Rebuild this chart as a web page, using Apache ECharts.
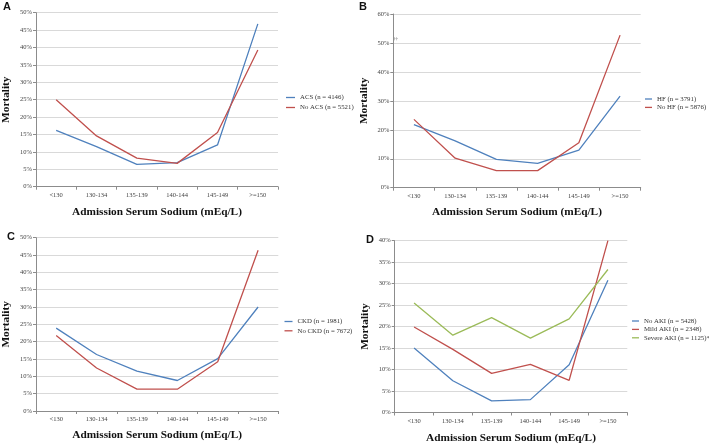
<!DOCTYPE html>
<html>
<head>
<meta charset="utf-8">
<script src="https://cdn.jsdelivr.net/npm/echarts@6/dist/echarts.min.js"></script>
<style>html,body{margin:0;padding:0;background:#fff}#c{width:709px;height:445px}</style>
</head>
<body>
<div id="c"></div>
<script>
const categories = ['<130', '130-134', '135-139', '140-144', '145-149', '>=150'];
const acs = [16.2, 11.5, 6.4, 6.9, 12.0, 46.8];
const noAcs = [25.0, 14.6, 8.2, 6.7, 15.6, 39.3];
const hf = [21.8, 16.2, 9.8, 8.4, 13.0, 31.6];
const noHf = [23.6, 10.2, 5.9, 5.9, 15.5, 52.7];
const ckd = [23.9, 16.3, 11.5, 8.8, 15.1, 30.0];
const noCkd = [21.8, 12.4, 6.3, 6.3, 14.2, 46.4];
const noAki = [15.0, 7.4, 2.7, 3.0, 11.1, 30.8];
const mildAki = [19.9, 14.7, 9.1, 11.2, 7.5, 40.0];
const severeAki = [25.5, 18.0, 22.1, 17.3, 21.8, 33.3];
const panelLetters = ['A', 'B', 'C', 'D'];
const yMax = [50, 60, 50, 40];
const yStep = [5, 10, 5, 5];
const xTitle = 'Admission Serum Sodium (mEq/L)';
const yTitle = 'Mortality';

const BLUE = '#4f81bd', RED = '#c0504d', GREEN = '#9bbb59';
const SERIF = '"Liberation Serif", "DejaVu Serif", serif';

const grids = [
  {left: 35, top: 12.7, width: 243, height: 174},
  {left: 393.3, top: 14, width: 247.4, height: 173.7},
  {left: 36, top: 237.7, width: 242.3, height: 173.3},
  {left: 394.7, top: 240.7, width: 232.6, height: 173.6}
];
const xNameGap = [20, 19, 18.5, 20.5];

const panels = [
  [{name: 'ACS (n = 4146)', data: acs, color: BLUE}, {name: 'No ACS (n = 5521)', data: noAcs, color: RED}],
  [{name: 'HF (n = 3791)', data: hf, color: BLUE}, {name: 'No HF (n = 5876)', data: noHf, color: RED}],
  [{name: 'CKD (n = 1981)', data: ckd, color: BLUE}, {name: 'No CKD (n = 7672)', data: noCkd, color: RED}],
  [{name: 'No AKI (n = 5428)', data: noAki, color: BLUE}, {name: 'Mild AKI (n = 2348)', data: mildAki, color: RED}, {name: 'Severe AKI (n = 1125)*', data: severeAki, color: GREEN}]
];

const legendPos = [
  {left: 286, top: 93.5, gap: 2, w: 9},
  {left: 645, top: 95, gap: 0.4, w: 7},
  {left: 284.5, top: 317.5, gap: 1.3, w: 8},
  {left: 632, top: 317, gap: 0.4, w: 7}
];
const letterPos = [
  {left: 3, top: 1}, {left: 359, top: 1}, {left: 7, top: 231}, {left: 366, top: 234}
];

const xAxes = [], yAxes = [], series = [], legends = [], titles = [];
grids.forEach((g, i) => {
  xAxes.push({
    type: 'category', gridIndex: i, data: categories, boundaryGap: true,
    name: xTitle, nameLocation: 'middle', nameGap: xNameGap[i],
    nameTextStyle: {fontFamily: SERIF, fontWeight: 'bold', fontSize: 11.3, color: '#111'},
    axisLine: {lineStyle: {color: '#8c8c8c', width: 1}},
    axisTick: {show: true, length: 3, lineStyle: {color: '#8c8c8c'}},
    axisLabel: {fontFamily: SERIF, fontSize: 6.5, color: '#444', margin: 5},
    splitLine: {show: false}
  });
  yAxes.push({
    type: 'value', gridIndex: i, min: 0, max: yMax[i], interval: yStep[i],
    name: yTitle, nameLocation: 'middle', nameGap: 24, nameRotate: 90,
    nameTextStyle: {fontFamily: SERIF, fontWeight: 'bold', fontSize: 11.3, color: '#111'},
    axisLine: {show: true, lineStyle: {color: '#8c8c8c', width: 1}},
    axisTick: {show: true, length: 3, lineStyle: {color: '#8c8c8c'}},
    axisLabel: {fontFamily: SERIF, fontSize: 6.5, color: '#444', margin: 4, formatter: '{value}%'},
    splitLine: {show: true, lineStyle: {color: '#d9d9d9', width: 1}}
  });
  panels[i].forEach(s => {
    series.push({
      type: 'line', name: s.name, xAxisIndex: i, yAxisIndex: i, data: s.data,
      symbol: 'none', showSymbol: false, color: s.color,
      lineStyle: {color: s.color, width: 1.3}, animation: false
    });
  });
  legends.push({
    orient: 'vertical', left: legendPos[i].left, top: legendPos[i].top, padding: 0,
    data: panels[i].map(s => s.name), icon: 'rect', itemWidth: legendPos[i].w, itemHeight: 1.3,
    itemGap: legendPos[i].gap, selectedMode: false,
    textStyle: {fontFamily: SERIF, fontSize: 6.8, color: '#333', lineHeight: 8}
  });
  titles.push({
    text: panelLetters[i], left: letterPos[i].left, top: letterPos[i].top, padding: 0,
    textStyle: {fontFamily: '"Liberation Sans", Arial, sans-serif', fontWeight: 'bold', fontSize: 11, color: '#111'}
  });
});

const chart = echarts.init(document.getElementById('c'), null, {renderer: 'canvas'});
chart.setOption({
  animation: false,
  backgroundColor: '#fff',
  title: titles,
  grid: grids,
  xAxis: xAxes,
  yAxis: yAxes,
  legend: legends,
  series: series,
  graphic: [{
    type: 'text', left: 392, top: 37, rotation: -Math.PI / 2,
    style: {text: '‡', fontSize: 7, fill: '#666', fontFamily: SERIF}
  }]
});
</script>
</body>
</html>
